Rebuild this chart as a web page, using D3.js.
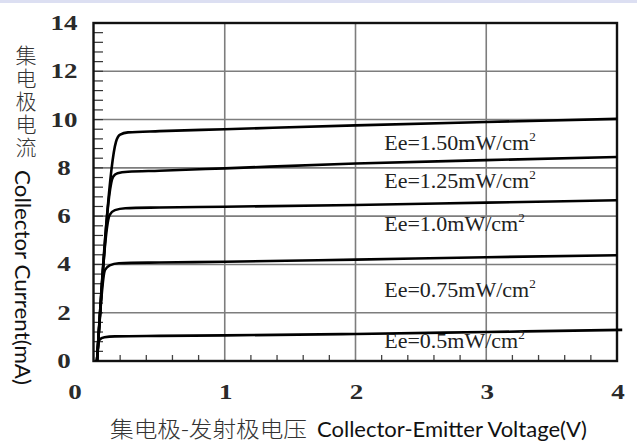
<!DOCTYPE html>
<html>
<head>
<meta charset="utf-8">
<script src="https://cdn.jsdelivr.net/npm/d3@7"></script>
<style>
  html, body { margin: 0; padding: 0; background: #fff; }
  svg { display: block; }
</style>
</head>
<body>
<svg id="chart" width="637" height="446"></svg>
<script>
// ---------------- data ----------------
const xTicks = [0, 1, 2, 3, 4];
const yTicks = [0, 2, 4, 6, 8, 10, 12, 14];
const seriesNames = ["Ee=1.50mW/cm", "Ee=1.25mW/cm", "Ee=1.0mW/cm", "Ee=0.75mW/cm", "Ee=0.5mW/cm"];
const v150 = [0.023, 0.168, 0.2, 0.26, 0.5, 1, 2, 3, 4];
const i150 = [0, 9.08, 9.38, 9.47, 9.52, 9.6, 9.76, 9.9, 10.03];
const v125 = [0.023, 0.146, 0.18, 0.26, 0.5, 1, 2, 3, 4];
const i125 = [0, 7.63, 7.78, 7.84, 7.88, 7.98, 8.18, 8.32, 8.45];
const v100 = [0.023, 0.12, 0.16, 0.24, 0.5, 1, 2, 3, 4];
const i100 = [0, 6.05, 6.25, 6.33, 6.36, 6.39, 6.46, 6.56, 6.66];
const v075 = [0.023, 0.084, 0.12, 0.19, 0.5, 1, 2, 3, 4];
const i075 = [0, 3.77, 3.96, 4.05, 4.08, 4.11, 4.2, 4.3, 4.38];
const v050 = [0.023, 0.04, 0.08, 0.16, 0.5, 1, 2, 3, 4.04];
const i050 = [0, 0.87, 0.98, 1.02, 1.04, 1.06, 1.12, 1.2, 1.29];
const xTitleCn = "集电极-发射极电压";
const xTitleEn = "Collector-Emitter Voltage(V)";
const yTitleCn = "集电极电流";
const yTitleEn = "Collector Current(mA)";

// ---------------- layout ----------------
const svg = d3.select("#chart");
const x = d3.scaleLinear().domain([0, 4]).range([94, 617]);
const y = d3.scaleLinear().domain([0, 14]).range([361, 23]);

svg.append("rect").attr("x", 0).attr("y", 0).attr("width", 637).attr("height", 446).attr("fill", "#fff");
svg.append("rect").attr("x", 0).attr("y", 0).attr("width", 637).attr("height", 3).attr("fill", "#dcdff2");

// grid lines
const gridColor = "#7d7d7d";
svg.append("g").selectAll("line").data(xTicks.filter(d => d > 0 && d < 4)).join("line")
  .attr("x1", d => x(d)).attr("x2", d => x(d)).attr("y1", y(14)).attr("y2", y(0))
  .attr("stroke", gridColor).attr("stroke-width", 1.6);
svg.append("g").selectAll("line").data(yTicks.filter(d => d > 0 && d < 14)).join("line")
  .attr("x1", x(0)).attr("x2", x(4)).attr("y1", d => y(d)).attr("y2", d => y(d))
  .attr("stroke", gridColor).attr("stroke-width", 1.6);

// minor ticks
const yMinor = d3.range(1, 35).map(k => k * 0.4);
svg.append("g").selectAll("line").data(yMinor).join("line")
  .attr("x1", x(0)).attr("x2", x(0) + 9).attr("y1", d => y(d)).attr("y2", d => y(d))
  .attr("stroke", "#333").attr("stroke-width", 1.2);
const xMinor = d3.range(1, 20).map(k => k * 0.2).filter(d => Math.abs(d - Math.round(d)) > 1e-6);
svg.append("g").selectAll("line").data(xMinor).join("line")
  .attr("x1", d => x(d)).attr("x2", d => x(d)).attr("y1", y(0)).attr("y2", y(0) - 6)
  .attr("stroke", "#444").attr("stroke-width", 1.3);

// frame
svg.append("rect")
  .attr("x", x(0) - 0.5).attr("y", y(14))
  .attr("width", x(4) - x(0) + 0.5).attr("height", y(0) - y(14))
  .attr("fill", "none").attr("stroke", "#111").attr("stroke-width", 2.4);

// curves
const curves = [[v150, i150], [v125, i125], [v100, i100], [v075, i075], [v050, i050]];
const line = d3.line().x(d => x(d[0])).y(d => y(d[1])).curve(d3.curveMonotoneX);
svg.append("g").selectAll("path").data(curves).join("path")
  .attr("d", c => line(c[0].map((v, k) => [v, c[1][k]])))
  .attr("fill", "none").attr("stroke", "#000").attr("stroke-width", 2.6)
  .attr("stroke-linejoin", "round");

// curve labels
const labelAnchorV = 2.22;
const labelAnchorI = [8.74, 7.17, 5.39, 2.65, 0.54];
const lab = svg.append("g").selectAll("text").data(seriesNames).join("text")
  .attr("transform", (d, k) => `translate(${x(labelAnchorV)},${y(labelAnchorI[k])}) scale(1.1,1)`)
  .attr("font-family", "'Liberation Serif', 'Times New Roman', serif")
  .attr("font-size", 20).attr("fill", "#222");
lab.append("tspan").text(d => d);
lab.append("tspan").attr("font-size", 12).attr("dy", -9).text("2");

// tick labels
const tickFont = "'Liberation Serif', 'Times New Roman', serif";
svg.append("g").selectAll("text").data(yTicks).join("text")
  .attr("transform", d => `translate(64,${y(d)}) scale(1.35,1)`)
  .attr("text-anchor", "middle").attr("dy", "0.35em")
  .attr("font-family", tickFont).attr("font-size", 20).attr("font-weight", "bold").attr("fill", "#2a2a2a")
  .text(d => d);
svg.append("g").selectAll("text").data(xTicks).join("text")
  .attr("transform", d => `translate(${d === 0 ? x(d) - 19 : x(d) + 1},391.5) scale(1.35,1)`)
  .attr("text-anchor", "middle").attr("dy", "0.35em")
  .attr("font-family", tickFont).attr("font-size", 20).attr("font-weight", "bold").attr("fill", "#2a2a2a")
  .text(d => d);

// axis titles
svg.append("text").attr("x", 110).attr("y", 437)
  .attr("font-family", "'Noto Sans CJK SC', sans-serif").attr("font-size", 22).attr("font-weight", 300)
  .attr("textLength", 197).attr("lengthAdjust", "spacingAndGlyphs")
  .attr("fill", "#333").text(xTitleCn);
svg.append("text").attr("x", 317).attr("y", 437)
  .attr("font-family", "Lato, 'Open Sans', sans-serif").attr("font-size", 21)
  .attr("textLength", 270).attr("lengthAdjust", "spacingAndGlyphs")
  .attr("fill", "#111").text(xTitleEn);

svg.append("text")
  .attr("x", 26).attr("y", 45)
  .style("writing-mode", "vertical-rl")
  .attr("letter-spacing", 2)
  .attr("font-family", "'Noto Sans CJK SC', sans-serif").attr("font-size", 21).attr("font-weight", 300)
  .attr("fill", "#333").text(yTitleCn);
svg.append("text")
  .attr("transform", "translate(15,170) rotate(90)")
  .attr("font-family", "Lato, 'Open Sans', sans-serif").attr("font-size", 21)
  .attr("textLength", 215).attr("lengthAdjust", "spacingAndGlyphs")
  .attr("fill", "#111").text(yTitleEn);
</script>
</body>
</html>
